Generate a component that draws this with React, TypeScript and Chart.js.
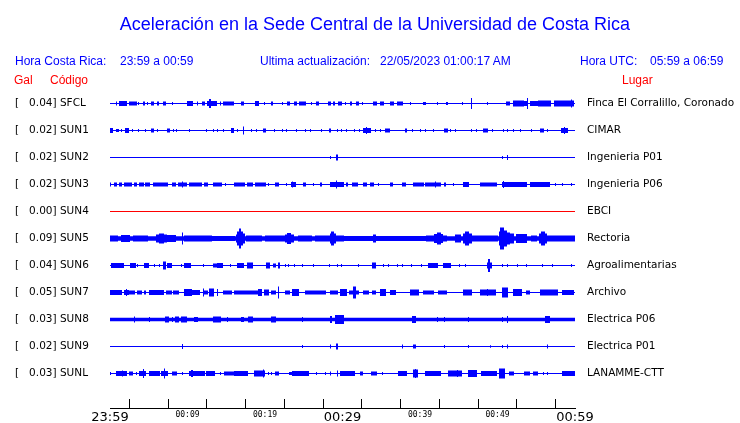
import React, { useEffect, useRef } from 'react';
import { Chart, registerables } from 'chart.js';

Chart.register(...registerables);

// ---------------- data ----------------
const TITLE = 'Aceleración en la Sede Central de la Universidad de Costa Rica';
const LOCAL_TIME_LABEL = 'Hora Costa Rica:';
const LOCAL_TIME_RANGE = '23:59 a 00:59';
const UPDATE_LABEL = 'Ultima actualización:';
const UPDATE_VALUE = '22/05/2023 01:00:17 AM';
const UTC_LABEL = 'Hora UTC:';
const UTC_RANGE = '05:59 a 06:59';
const HEADER_GAL = 'Gal';
const HEADER_CODE = 'Código';
const HEADER_PLACE = 'Lugar';

const STATION_CODES = ['SFCL', 'SUN1', 'SUN2', 'SUN3', 'SUN4', 'SUN5', 'SUN6', 'SUN7', 'SUN8', 'SUN9', 'SUNL'];
const PEAK_GAL = ['0.04', '0.02', '0.02', '0.02', '0.00', '0.09', '0.04', '0.05', '0.03', '0.02', '0.03'];
const PLACES = [
  'Finca El Corralillo, Coronado', 'CIMAR', 'Ingenieria P01', 'Ingenieria P06', 'EBCI', 'Rectoria',
  'Agroalimentarias', 'Archivo', 'Electrica P06', 'Electrica P01', 'LANAMME-CTT',
];
const TRACE_COLORS = ['#0000ff', '#0000ff', '#0000ff', '#0000ff', '#ff0000', '#0000ff', '#0000ff', '#0000ff', '#0000ff', '#0000ff', '#0000ff'];

// time axis: minutes after 23:59, ticks every 5 minutes
const DURATION_MIN = 60;
const TICK_STEP_MIN = 5;
const TICK_LABELS = ['23:59', '', '00:09', '', '00:19', '', '00:29', '', '00:39', '', '00:49', '', '00:59'];
const MAJOR_TICK_LABELS = ['23:59', '00:29', '00:59'];

// background noise level of each trace (relative counts)
const BASE_AMPS = [0.5, 0.5, 0.5, 0.5, 0.5, 2.2, 0.5, 0.5, 1.8, 0.5, 0.5];

// envelope events read from the record: [start minute, end minute, half amplitude (relative counts)]
const SFCL_EVENTS = [
  [0.8, 0.9, 2], [1.2, 2.1, 2.5], [2.5, 3.4, 2], [3.7, 3.7, 1.5], [4.3, 4.4, 2], [4.9, 4.9, 1.5], [5.4, 5.6, 2],
  [6.1, 6.3, 2], [6.9, 7.1, 2], [8.0, 8.0, 1.5], [10.0, 10.7, 2.5], [11.3, 11.3, 2], [11.9, 12.2, 2],
  [12.6, 13.7, 2.5], [12.9, 13.0, 4.5], [14.2, 14.2, 2], [14.7, 15.9, 2], [17.0, 17.2, 2], [18.8, 19.2, 2.5],
  [19.9, 19.9, 1.5], [20.8, 21.0, 2], [22.3, 22.3, 1.5], [22.9, 23.1, 2], [23.8, 24.0, 2], [24.4, 25.2, 2],
  [26.0, 26.0, 1.5], [26.6, 26.9, 2], [28.2, 28.4, 2], [28.8, 29.0, 2], [29.5, 29.9, 2], [30.4, 30.4, 1.5],
  [31.0, 31.2, 2], [31.8, 32.0, 2], [32.6, 32.6, 1.5], [34.0, 34.4, 2], [34.9, 35.3, 2], [36.2, 36.6, 2],
  [37.1, 37.8, 2], [38.8, 38.8, 1.5], [40.5, 40.7, 1.5], [42.2, 42.2, 1.5], [43.4, 43.6, 1.5], [45.5, 45.5, 1.5],
  [46.6, 46.6, 5.5], [48.7, 48.7, 1.5], [51.2, 51.5, 2], [52.1, 53.3, 3], [53.4, 53.9, 2.5], [53.9, 53.9, 5.5],
  [54.3, 55.2, 2.5], [55.3, 56.9, 3], [57.3, 59.0, 3], [59.2, 59.8, 3], [59.5, 59.5, 4],
];
const SUN1_EVENTS = [
  [0.0, 0.3, 2.5], [0.8, 1.1, 1.5], [1.5, 1.5, 1.5], [2.0, 2.4, 2.5], [2.9, 2.9, 1.5], [3.7, 3.7, 1.5], [4.6, 4.6, 1.5],
  [5.4, 5.6, 2], [6.1, 6.1, 1.5], [7.4, 7.7, 2], [8.2, 8.2, 1.5], [8.6, 8.6, 1.5], [10.2, 10.2, 1.5], [12.5, 12.5, 1.5],
  [13.4, 13.4, 1.5], [13.9, 13.9, 1.5], [14.7, 14.7, 1.5], [15.7, 15.9, 2.5], [16.5, 16.5, 1.5], [17.2, 17.2, 4],
  [18.3, 18.3, 1.5], [18.9, 18.9, 1.5], [19.8, 20.1, 2], [21.2, 21.2, 1.5], [22.2, 22.2, 1.5], [22.8, 22.8, 1.5],
  [24.1, 24.1, 1.5], [25.2, 25.2, 1.5], [25.9, 25.9, 1.5], [27.3, 27.3, 1.5], [28.3, 28.5, 2], [29.3, 29.3, 1.5],
  [29.9, 29.9, 1.5], [30.5, 30.5, 1.5], [31.6, 31.6, 1.5], [32.2, 32.2, 1.5], [32.7, 33.6, 2.5], [33.1, 33.1, 3.5],
  [34.2, 34.2, 1.5], [34.9, 34.9, 1.5], [35.6, 36.1, 2], [38.1, 38.3, 2], [39.0, 39.0, 1.5], [40.1, 40.1, 1.5],
  [40.7, 40.7, 1.5], [41.8, 41.8, 1.5], [43.2, 43.6, 2], [43.9, 43.9, 1.5], [44.6, 44.6, 1.5], [46.6, 46.6, 1.5],
  [47.3, 47.3, 1.5], [48.2, 48.7, 2], [49.4, 49.4, 1.5], [50.8, 50.8, 1.5], [51.3, 51.3, 1.5], [52.1, 52.1, 1.5],
  [53.0, 53.0, 1.5], [54.4, 54.4, 1.5], [55.5, 55.9, 2], [56.5, 56.5, 1.5], [58.2, 59.0, 2.5], [58.6, 58.6, 3.5],
];
const SUN2_EVENTS = [[28.5, 28.5, 1.5], [29.2, 29.3, 3], [50.7, 50.7, 1.5], [51.3, 51.3, 2.5]];
const SUN3_EVENTS = [
  [0.1, 0.1, 2], [0.6, 0.8, 2], [1.2, 1.5, 2], [1.9, 2.8, 2], [3.2, 3.4, 2], [3.8, 4.3, 2], [4.6, 5.1, 2], [5.6, 7.4, 2],
  [8.0, 8.4, 2], [8.8, 9.9, 2], [9.4, 9.4, 3], [10.2, 11.8, 2], [12.2, 12.6, 2], [13.4, 13.7, 2], [13.9, 14.4, 2],
  [14.9, 14.9, 1.5], [16.1, 17.4, 2], [17.8, 18.4, 2], [18.8, 20.0, 2], [20.4, 20.4, 1.5], [21.4, 21.7, 2],
  [22.8, 22.8, 1.5], [23.4, 23.9, 2.5], [23.6, 23.6, 3], [25.0, 25.2, 2], [26.3, 26.3, 1.5], [27.1, 27.3, 2],
  [28.4, 30.1, 2.5], [29.2, 29.2, 4], [30.5, 30.7, 2], [31.3, 31.9, 2], [32.7, 33.1, 2], [33.6, 34.0, 2],
  [34.6, 34.6, 1.5], [36.2, 36.4, 2], [37.7, 38.1, 2], [39.2, 40.5, 2], [40.7, 42.7, 2], [42.0, 42.0, 3],
  [43.1, 43.3, 2], [44.3, 44.3, 1.5], [45.6, 46.3, 2.5], [47.8, 49.9, 2], [50.6, 51.1, 2.5], [50.8, 50.8, 3.5],
  [51.3, 53.7, 2.5], [54.3, 56.7, 2.5], [57.5, 57.5, 1.5], [58.4, 58.4, 1.5], [59.5, 59.5, 1.5],
];
const SUN4_EVENTS: number[][] = [];
const SUN5_EVENTS = [
  [0.0, 1.0, 3], [1.5, 2.5, 3.5], [3.0, 4.9, 3], [6.0, 6.4, 4], [6.4, 6.9, 5], [6.9, 7.3, 4], [7.4, 8.5, 3.5],
  [9.4, 9.4, 6], [9.6, 13.1, 3], [13.1, 16.1, 2.5], [16.3, 16.5, 4], [16.5, 16.7, 7], [16.7, 16.9, 10],
  [16.9, 17.1, 7], [17.1, 17.4, 5], [17.6, 19.6, 3], [20.0, 22.6, 3], [22.6, 22.9, 4], [22.9, 23.3, 5.5],
  [23.3, 23.7, 4], [24.3, 26.0, 3], [26.5, 28.3, 3], [28.4, 28.6, 5], [28.6, 28.9, 7], [28.9, 29.1, 5],
  [29.1, 30.1, 3], [30.1, 34.0, 2.5], [34.0, 34.2, 4], [34.2, 40.8, 2.5], [40.8, 43.4, 3], [41.9, 42.2, 4.5],
  [42.2, 42.6, 6], [42.6, 42.9, 4.5], [44.6, 45.2, 4], [45.6, 45.9, 5], [45.9, 46.3, 7], [46.3, 46.6, 5],
  [46.6, 50.0, 3], [50.2, 50.4, 7], [50.4, 50.8, 11], [50.8, 51.1, 8], [51.1, 51.6, 6], [51.6, 52.0, 5],
  [52.5, 53.7, 4.5], [54.4, 55.0, 3], [55.4, 55.7, 5], [55.7, 56.0, 7], [56.0, 56.3, 5], [56.3, 60.0, 3],
];
const SUN6_EVENTS = [
  [0.2, 1.8, 2.5], [2.7, 3.3, 2.5], [3.6, 3.6, 1.5], [4.5, 5.0, 2.5], [5.8, 5.8, 1.5], [6.4, 6.4, 1.5], [6.9, 7.1, 4],
  [7.4, 7.9, 2.5], [9.2, 9.2, 1.5], [9.6, 10.4, 2.5], [12.0, 12.0, 1.5], [13.3, 13.7, 2], [13.9, 14.5, 2.5],
  [15.6, 15.6, 1.5], [16.4, 17.2, 2.5], [17.8, 18.4, 3], [20.2, 20.6, 3], [21.1, 21.3, 2], [21.7, 21.9, 3],
  [22.6, 22.6, 1.5], [23.0, 23.0, 1.5], [23.8, 23.8, 1.5], [24.8, 24.8, 1.5], [26.3, 26.3, 1.5], [28.3, 28.3, 1.5],
  [29.3, 29.3, 1.5], [29.9, 29.9, 1.5], [32.0, 32.0, 1.5], [33.9, 34.2, 3], [35.3, 35.3, 1.5], [35.9, 35.9, 1.5],
  [37.1, 37.1, 1.5], [37.8, 37.8, 1.5], [38.9, 38.9, 1.5], [40.2, 40.2, 1.5], [41.1, 42.2, 2.5], [43.0, 43.9, 2.5],
  [45.1, 45.1, 1.5], [45.9, 45.9, 1.5], [48.7, 49.2, 3], [48.9, 49.0, 6.5], [50.6, 50.6, 1.5], [51.3, 51.3, 1.5],
  [52.6, 52.6, 1.5], [53.7, 53.7, 1.5], [55.8, 55.8, 1.5], [57.1, 57.1, 1.5], [59.5, 59.5, 1.5],
];
const SUN7_EVENTS = [
  [0.0, 1.5, 2.5], [1.9, 2.4, 2.5], [2.1, 2.1, 3.5], [2.5, 3.2, 2], [3.6, 4.1, 2], [4.4, 4.6, 2], [5.1, 6.9, 2.5],
  [7.3, 7.9, 2], [8.2, 8.9, 2], [9.6, 10.5, 3.5], [10.7, 11.6, 2.5], [12.0, 12.0, 4], [12.1, 12.6, 2],
  [12.8, 13.4, 4], [13.9, 13.9, 3.5], [14.7, 15.7, 2], [16.1, 19.2, 2], [19.2, 19.6, 3.5], [19.9, 20.4, 3],
  [20.8, 21.3, 2], [21.8, 21.8, 6], [22.6, 23.1, 2], [23.6, 24.3, 3.5], [25.2, 27.8, 2], [28.4, 29.4, 2],
  [29.7, 30.5, 3.5], [30.9, 32.0, 2], [31.4, 31.7, 6], [32.7, 33.3, 2], [33.9, 34.2, 2], [34.9, 35.5, 3.5],
  [36.2, 36.8, 2.5], [38.8, 39.8, 3], [40.5, 41.8, 2], [42.4, 43.4, 2], [45.6, 46.6, 3], [47.8, 49.8, 3],
  [48.7, 48.7, 3.5], [50.7, 51.3, 5], [52.1, 53.1, 3.5], [53.7, 54.1, 2], [55.6, 57.8, 3], [58.4, 59.8, 2.5],
];
const SUN8_EVENTS = [
  [3.2, 3.2, 3], [5.1, 5.1, 2.5], [7.1, 7.6, 3], [8.0, 8.0, 2.5], [8.5, 8.8, 3], [9.2, 9.9, 3], [10.9, 11.3, 2.5],
  [13.4, 14.2, 3], [15.2, 15.2, 2.5], [17.0, 17.2, 2.5], [17.9, 18.4, 3], [20.9, 21.4, 3], [24.8, 24.8, 2.5],
  [28.4, 28.6, 3.5], [29.1, 30.1, 4.5], [39.0, 39.4, 3.5], [42.3, 42.3, 2.5], [43.2, 43.2, 2.5], [46.3, 46.3, 2.5],
  [50.7, 50.7, 2.5], [51.3, 51.3, 3.5], [56.2, 56.7, 3.5],
];
const SUN9_EVENTS = [
  [9.4, 9.4, 2.5], [24.8, 24.8, 1.5], [28.4, 28.5, 2], [29.2, 29.3, 3], [37.7, 37.7, 2], [39.2, 39.4, 2],
  [43.2, 43.2, 1.5], [46.3, 46.3, 1.5], [49.1, 49.1, 1.2], [50.7, 50.7, 1.5], [51.3, 51.3, 2], [56.4, 56.5, 2],
];
const SUNL_EVENTS = [
  [0.0, 0.0, 1.5], [0.8, 2.1, 2.5], [1.6, 1.6, 3], [2.5, 2.9, 2], [3.4, 3.4, 1.5], [3.8, 4.6, 2.5], [4.3, 4.3, 4.5],
  [5.1, 6.4, 2.5], [6.7, 7.4, 2.5], [7.0, 7.0, 5], [8.0, 8.6, 2], [9.3, 9.3, 1.5], [10.3, 12.2, 2.5],
  [10.5, 10.6, 3.5], [12.5, 13.5, 2.5], [14.2, 14.2, 1.5], [14.8, 15.9, 2], [16.1, 17.7, 2.5], [18.7, 19.9, 3],
  [19.8, 19.8, 4], [20.4, 20.4, 1.5], [20.9, 20.9, 1.5], [21.4, 21.7, 2], [23.2, 23.4, 1.5], [23.6, 25.6, 2.5],
  [26.7, 26.7, 1.5], [27.8, 27.8, 1.5], [28.4, 28.5, 2], [29.3, 29.3, 3], [29.7, 31.6, 2.5], [32.3, 32.6, 2],
  [33.8, 34.4, 2], [35.1, 35.1, 1.5], [37.2, 38.3, 2.5], [39.2, 39.7, 4], [39.4, 39.4, 4.5], [40.7, 42.7, 2.5],
  [43.7, 45.4, 3], [44.9, 44.9, 3.5], [46.3, 47.3, 3.5], [47.9, 49.9, 2.5], [50.3, 50.9, 5], [51.5, 52.0, 2],
  [53.5, 54.1, 2], [54.6, 55.1, 2], [55.9, 55.9, 1.5], [56.5, 56.5, 1.5], [58.4, 60.0, 2.5],
];

const STATION_EVENTS = [
  SFCL_EVENTS, SUN1_EVENTS, SUN2_EVENTS, SUN3_EVENTS, SUN4_EVENTS, SUN5_EVENTS,
  SUN6_EVENTS, SUN7_EVENTS, SUN8_EVENTS, SUN9_EVENTS, SUNL_EVENTS,
];

// ---------------- layout / rendering settings ----------------
const BIN_COUNT = 465; // time resolution of the envelope
const COUNTS_PER_LANE = 27; // relative counts that fill one trace lane
const Y_MIN = -34.5 / COUNTS_PER_LANE;
const Y_MAX = 284.5 / COUNTS_PER_LANE;

function buildEnvelope(events: number[][], base: number): number[] {
  const binW = DURATION_MIN / BIN_COUNT;
  const amps = new Array(BIN_COUNT).fill(base);
  for (const [s, e, a] of events) {
    const i0 = Math.max(0, Math.floor(s / binW));
    const i1 = Math.min(BIN_COUNT - 1, Math.floor(e / binW));
    for (let i = i0; i <= i1; i++) amps[i] = Math.max(amps[i], a);
  }
  return amps;
}

const laneOf = (i: number) => STATION_CODES.length - 1 - i;
const leftLabel = (i: number) => `[   ${PEAK_GAL[i]}] ${STATION_CODES[i]}`;

export default function App() {
  const canvasRef = useRef<HTMLCanvasElement | null>(null);

  useEffect(() => {
    const canvas = canvasRef.current;
    if (!canvas) return;
    const binW = DURATION_MIN / BIN_COUNT;
    const lanes = STATION_CODES.map((_, i) => laneOf(i));

    const datasets = STATION_CODES.map((code, i) => {
      const env = buildEnvelope(STATION_EVENTS[i], BASE_AMPS[i]);
      const lane = laneOf(i);
      return {
        label: code,
        data: env.map((a, k) => ({
          x: (k + 0.5) * binW,
          y: [lane - a / COUNTS_PER_LANE, lane + a / COUNTS_PER_LANE],
        })),
        backgroundColor: TRACE_COLORS[i],
        borderWidth: 0,
        grouped: false,
        barPercentage: 1,
        categoryPercentage: 1,
        inflateAmount: 0,
        xAxisID: 'x',
        yAxisID: 'y',
      };
    });

    const chart = new Chart(canvas, {
      type: 'bar',
      data: { datasets: datasets as any },
      options: {
        animation: false,
        responsive: false,
        devicePixelRatio: 1,
        events: [],
        layout: { padding: { left: 15, right: 0, top: 89, bottom: 0 } },
        plugins: { legend: { display: false }, tooltip: { enabled: false }, title: { display: false } },
        scales: {
          x: {
            type: 'linear',
            position: 'bottom',
            min: 0,
            max: DURATION_MIN,
            offset: false,
            afterFit: (s: any) => { s.height = 15; },
            border: { display: true, color: '#000000', width: 1 },
            grid: { drawOnChartArea: false, drawTicks: true, tickLength: -9, color: '#000000', lineWidth: 1 },
            ticks: {
              stepSize: TICK_STEP_MIN,
              autoSkip: false,
              maxRotation: 0,
              minRotation: 0,
              padding: 11,
              color: '#000000',
              callback: (v: any) => TICK_LABELS[Math.round(Number(v) / TICK_STEP_MIN)] ?? '',
              font: (ctx: any) => {
                const lbl = TICK_LABELS[Math.round(Number(ctx.tick?.value ?? 0) / TICK_STEP_MIN)];
                return MAJOR_TICK_LABELS.includes(lbl)
                  ? { family: 'DejaVu Sans', size: 13 }
                  : { family: 'DejaVu Sans Mono', size: 8 };
              },
            },
          },
          y: { type: 'linear', display: false, min: Y_MIN, max: Y_MAX },
          yLeft: {
            type: 'linear',
            position: 'left',
            min: Y_MIN,
            max: Y_MAX,
            afterFit: (s: any) => { s.width = 95; },
            afterBuildTicks: (s: any) => { s.ticks = lanes.map((v) => ({ value: v })); },
            border: { display: false },
            grid: { display: false, drawTicks: false },
            ticks: {
              autoSkip: false,
              crossAlign: 'far',
              padding: 0,
              color: '#000000',
              font: { family: 'DejaVu Sans', size: 10.5 },
              callback: (v: any) => leftLabel(STATION_CODES.length - 1 - Math.round(Number(v))),
            },
          },
          yRight: {
            type: 'linear',
            position: 'right',
            min: Y_MIN,
            max: Y_MAX,
            afterFit: (s: any) => { s.width = 165; },
            afterBuildTicks: (s: any) => { s.ticks = lanes.map((v) => ({ value: v })); },
            border: { display: false },
            grid: { display: false, drawTicks: true, tickLength: 12 },
            ticks: {
              autoSkip: false,
              crossAlign: 'near',
              padding: 0,
              color: '#000000',
              font: { family: 'DejaVu Sans', size: 10.5 },
              callback: (v: any) => PLACES[STATION_CODES.length - 1 - Math.round(Number(v))],
            },
          },
        },
      } as any,
    });
    return () => chart.destroy();
  }, []);

  const blueText: React.CSSProperties = {
    position: 'absolute', fontFamily: '"Liberation Sans", Arial, sans-serif', fontSize: 12,
    lineHeight: '12px', color: '#0000ff', whiteSpace: 'pre',
  };
  const redText: React.CSSProperties = { ...blueText, color: '#ff0000' };

  return (
    <div style={{ position: 'absolute', left: 0, top: 0, width: 740, height: 423, background: '#ffffff', overflow: 'hidden' }}>
      <canvas ref={canvasRef} width={740} height={423} style={{ position: 'absolute', left: 0, top: 0, width: 740, height: 423 }} />
      <div style={{ ...blueText, fontSize: 18, lineHeight: '18px', left: 0, width: 750, textAlign: 'center', top: 15 }}>{TITLE}</div>
      <div style={{ ...blueText, left: 15, top: 55 }}>{LOCAL_TIME_LABEL}</div>
      <div style={{ ...blueText, left: 120, top: 55 }}>{LOCAL_TIME_RANGE}</div>
      <div style={{ ...blueText, left: 260, top: 55 }}>{UPDATE_LABEL}</div>
      <div style={{ ...blueText, left: 380, top: 55 }}>{UPDATE_VALUE}</div>
      <div style={{ ...blueText, left: 580, top: 55 }}>{UTC_LABEL}</div>
      <div style={{ ...blueText, left: 650, top: 55 }}>{UTC_RANGE}</div>
      <div style={{ ...redText, left: 14, top: 74 }}>{HEADER_GAL}</div>
      <div style={{ ...redText, left: 50, top: 74 }}>{HEADER_CODE}</div>
      <div style={{ ...redText, left: 622, top: 74 }}>{HEADER_PLACE}</div>
    </div>
  );
}
